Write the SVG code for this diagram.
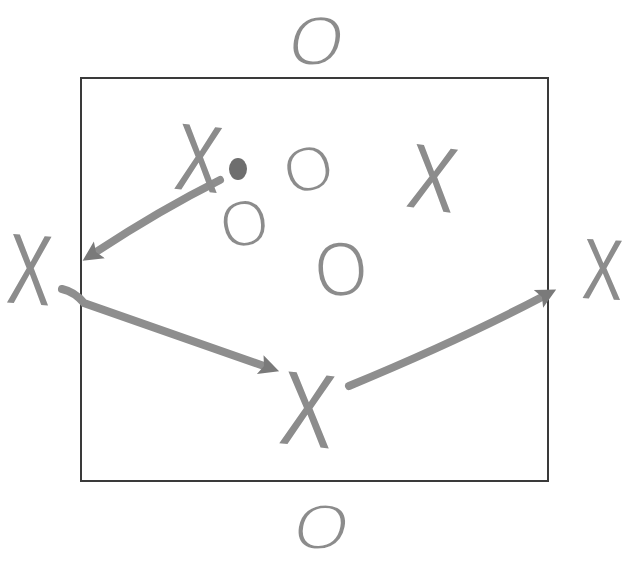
<svg xmlns="http://www.w3.org/2000/svg" width="627" height="563" viewBox="0 0 627 563">
<style>
.m{font-family:"Liberation Sans",Arial,sans-serif;fill:#8c8c8c;text-anchor:middle}
.o{stroke:#fff;stroke-width:2.2}
.c{fill:none;stroke:#8e8e8e;stroke-width:8;stroke-linecap:round}
</style>
<defs>
<marker id="ah" markerUnits="userSpaceOnUse" markerWidth="22" markerHeight="24" refX="4" refY="12" orient="auto">
<path d="M0,2 L20,12 L0,22 L4,12 Z" fill="#7a7a7a"/>
</marker>
</defs>
<rect width="627" height="563" fill="#fff"/>
<rect x="81" y="78" width="467" height="403" fill="none" stroke="#3a3a3a" stroke-width="2"/>
<g id="connectors">
<path class="c" d="M220,180 Q160,210 96,252" marker-end="url(#ah)"/>
<path class="c" d="M62,289 Q75,292 84,303 L264,366" marker-end="url(#ah)"/>
<path class="c" d="M349,386 Q460,340 542,297" marker-end="url(#ah)"/>
</g>
<g id="o-top"><text class="m o" font-size="70" transform="translate(317,40) skewX(-10)" y="25">O</text></g>
<g id="x-top-left"><text class="m" font-size="95" transform="translate(199,157) rotate(6) scale(0.72,1)" y="34">X</text></g>
<g id="dot"><ellipse cx="238" cy="169" rx="9" ry="11" fill="#6e6e6e"/></g>
<g id="o-1"><text class="m o" font-size="64" transform="translate(308,168) rotate(-15)" y="23">O</text></g>
<g id="x-right-inner"><text class="m" font-size="92" transform="translate(433,177) rotate(8) scale(0.78,1)" y="33">X</text></g>
<g id="o-2"><text class="m o" font-size="66" transform="translate(244,222) rotate(-10) scale(0.95,1)" y="24">O</text></g>
<g id="o-3"><text class="m o" font-size="78" transform="translate(341,268) rotate(-5) scale(0.88,1)" y="28">O</text></g>
<g id="x-left"><text class="m" font-size="100" transform="translate(30,268) rotate(4) scale(0.66,1)" y="36">X</text></g>
<g id="x-right"><text class="m" font-size="86" transform="translate(603,268) rotate(3) scale(0.7,1)" y="31">X</text></g>
<g id="x-center"><text class="m" font-size="105" transform="translate(308,408) rotate(6) scale(0.76,1)" y="38">X</text></g>
<g id="o-bottom"><text class="m o" font-size="64" transform="translate(322,526) skewX(-10) scale(1.1,1)" y="23">O</text></g>
</svg>
